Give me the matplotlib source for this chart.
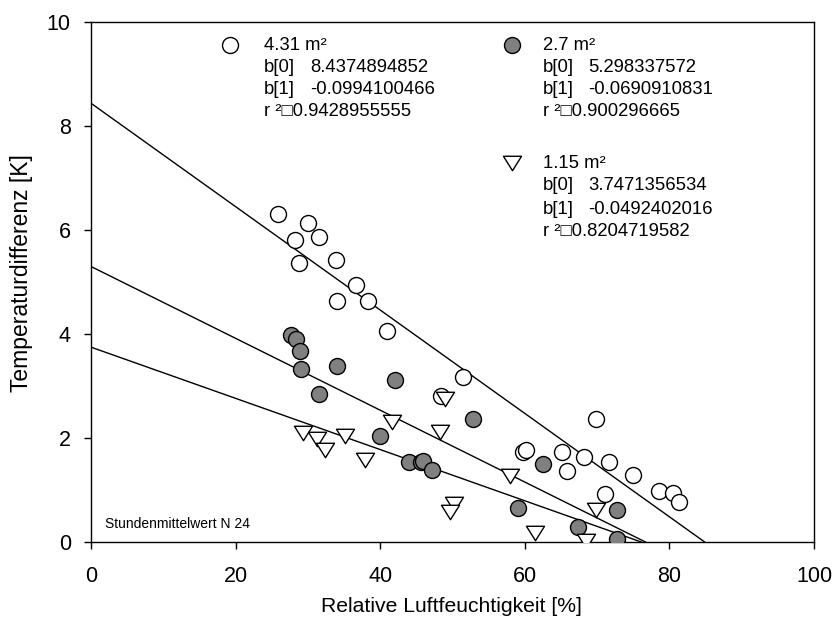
import matplotlib
matplotlib.use("Agg")
import matplotlib.pyplot as plt
from matplotlib.path import Path

plt.rcParams['font.family'] = ['Liberation Sans', 'DejaVu Sans']

# 4.31 m2 (open circles)
x_big = [25.9, 30.0, 28.2, 31.5, 28.7, 33.9, 36.6, 34.0, 38.3, 41.0, 51.4, 48.4,
         69.9, 59.8, 60.1, 65.1, 68.2, 71.6, 65.8, 75.0, 78.6, 80.5, 71.1, 81.3]
y_big = [6.30, 6.13, 5.80, 5.86, 5.37, 5.42, 4.94, 4.64, 4.64, 4.06, 3.17, 2.81,
         2.36, 1.74, 1.76, 1.73, 1.63, 1.54, 1.37, 1.29, 0.99, 0.95, 0.92, 0.76]

# 2.7 m2 (grey circles)
x_mid = [27.7, 28.4, 28.9, 29.1, 34.0, 31.5, 42.0, 40.0, 52.9, 44.0, 45.6, 45.9,
         47.1, 62.5, 59.0, 67.3, 72.7, 72.7]
y_mid = [3.99, 3.90, 3.67, 3.32, 3.38, 2.84, 3.12, 2.04, 2.37, 1.53, 1.53, 1.55,
         1.38, 1.50, 0.66, 0.28, 0.61, 0.06]

# 1.15 m2 (triangles)
x_small = [29.3, 31.3, 32.3, 35.2, 37.9, 41.7, 48.3, 49.0, 57.9, 50.2, 49.7,
           61.4, 69.8, 68.4]
y_small = [2.10, 1.99, 1.77, 2.04, 1.58, 2.31, 2.11, 2.75, 1.26, 0.73, 0.57,
           0.18, 0.62, 0.01]

# regression results
areas = ["4.31 m²", "2.7 m²", "1.15 m²"]
b0 = [8.4374894852, 5.298337572, 3.7471356534]
b1 = [-0.0994100466, -0.0690910831, -0.0492402016]
r2 = ["0.9428955555", "0.900296665", "0.8204719582"]

# down triangle, a bit wider than tall
tri = Path([(-1, 0.8), (1, 0.8), (0, -0.8), (-1, 0.8)], closed=True)
styles = [
    dict(marker='o', markersize=11.5, markerfacecolor='white'),
    dict(marker='o', markersize=11.5, markerfacecolor='#808080'),
    dict(marker=tri, markersize=13, markerfacecolor='white'),
]

fig = plt.figure(figsize=(8.36, 6.26), dpi=100)
ax = fig.add_axes([91 / 836, 84 / 626, 723 / 836, 520 / 626])

# regression lines, from x = 0 to the zero crossing
for a, b in zip(b0, b1):
    xe = -a / b
    ax.plot([0, xe], [a, a + b * xe], color='black', lw=1.0, zorder=2)

for xs, ys, st in zip([x_big, x_mid, x_small], [y_big, y_mid, y_small], styles):
    ax.plot(xs, ys, linestyle='none', markeredgecolor='black',
            markeredgewidth=1.0, zorder=3, **st)

# legend block drawn by hand (pixel positions -> axes fraction)
def to_ax(px, py):
    return (px - 91) / 723, (542 - py) / 520

blocks = [(230, 264, 310, 45, 22), (512, 543, 588, 45, 22), (512, 543, 588, 163, 23)]
for i, (mx, tx, vx, ty, dy) in enumerate(blocks):
    ax.plot(*to_ax(mx, ty), transform=ax.transAxes, clip_on=False,
            linestyle='none', markeredgecolor='black', markeredgewidth=1.0,
            **styles[i])
    rows = [(areas[i], None), ("b[0]", str(b0[i])), ("b[1]", str(b1[i])),
            ("r ²□" + r2[i], None)]
    for k, (lab, val) in enumerate(rows):
        yy = ty + k * dy
        ax.text(*to_ax(tx, yy), lab, transform=ax.transAxes, fontsize=13.3,
                va='center', ha='left')
        if val is not None:
            ax.text(*to_ax(vx, yy), val, transform=ax.transAxes, fontsize=13.3,
                    va='center', ha='left')

ax.text(*to_ax(105, 524), "Stundenmittelwert N 24", transform=ax.transAxes,
        fontsize=10, va='center', ha='left')

ax.set_xlim(0, 100)
ax.set_ylim(0, 10)
ax.set_xticks([0, 20, 40, 60, 80, 100])
ax.set_yticks([0, 2, 4, 6, 8, 10])
ax.tick_params(direction='out', length=5, width=1, labelsize=15.5,
               top=False, right=False)
ax.tick_params(axis='x', pad=12)
ax.tick_params(axis='y', pad=9.5)
for s in ax.spines.values():
    s.set_linewidth(1.0)
ax.set_xlabel("Relative Luftfeuchtigkeit [%]", fontsize=15.2)
ax.set_ylabel("Temperaturdifferenz [K]", fontsize=16.5)
ax.xaxis.set_label_coords(0.498, -0.106)
ax.yaxis.set_label_coords(-0.080, 0.517)

fig.savefig("out.png", dpi=100)
